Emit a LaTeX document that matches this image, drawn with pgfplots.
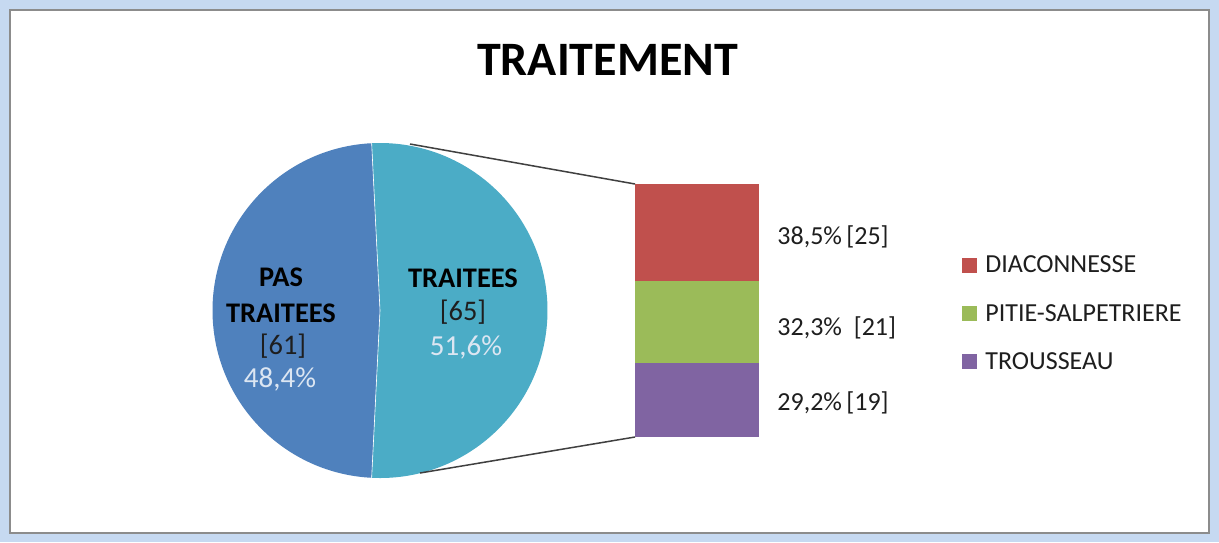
\documentclass[border=0pt]{standalone}
\usepackage{pgfplots}
\pgfplotsset{compat=1.18}
\usepackage{fontspec}
\setmainfont{Carlito}
\definecolor{bgblue}{HTML}{C6D9F1}
\definecolor{pasc}{HTML}{4F81BD}
\definecolor{traitc}{HTML}{4BACC6}
\definecolor{diac}{HTML}{C0504D}
\definecolor{pitc}{HTML}{9BBB59}
\definecolor{trouc}{HTML}{8064A2}
\definecolor{pctc}{HTML}{DCE6F2}
\definecolor{txt}{HTML}{1E1E1E}
\begin{document}
\begin{tikzpicture}
% pie data: PAS TRAITEES = 61, TRAITEES = 65
\pgfmathsetmacro\nPas{61}
\pgfmathsetmacro\nTrait{65}
\pgfmathsetmacro\aPas{\nPas/(\nPas+\nTrait)*360}
\pgfmathsetmacro\sA{180-\aPas/2}
\pgfmathsetmacro\eA{180+\aPas/2}
\pgfmathsetmacro\eB{\sA+360}
\begin{axis}[at={(0,0)}, anchor=south west, scale only axis,
  width=609.5pt, height=271pt, xmin=0, xmax=1219, ymin=0, ymax=542,
  y dir=reverse, hide axis, clip=false]
\fill[bgblue] (axis cs:0,0) rectangle (axis cs:1219,542);
\filldraw[fill=white, draw=black!45, line width=1pt] (axis cs:10,10) rectangle (axis cs:1209,533);
% pie
\fill[pasc] (axis cs:380,310.5) -- ++(\sA:83.75pt) arc[start angle=\sA, end angle=\eA, radius=83.75pt] -- cycle;
\fill[traitc] (axis cs:380,310.5) -- ++(\eA:83.75pt) arc[start angle=\eA, end angle=\eB, radius=83.75pt] -- cycle;
\draw[white, line width=0.3pt] (axis cs:380,310.5) ++(\sA:83.75pt) -- (axis cs:380,310.5) -- ++(\eA:83.75pt);
% connectors
\draw[line width=0.75pt, black!75] (axis cs:410,144) -- (axis cs:635,184);
\draw[line width=0.75pt, black!75] (axis cs:420,473) -- (axis cs:635,437);
% title
\node[anchor=base, inner sep=0pt, font=\bfseries\fontsize{24}{28}\selectfont] at (axis cs:607.5,75) {TRAITEMENT};
% pie labels
\node[anchor=base, inner sep=0pt, font=\bfseries\fontsize{14.2}{16}\selectfont] at (axis cs:281,286) {PAS};
\node[anchor=base, inner sep=0pt, font=\bfseries\fontsize{14.2}{16}\selectfont] at (axis cs:281,322) {TRAITEES};
\node[anchor=base, inner sep=0pt, txt, font=\fontsize{14.2}{16}\selectfont] at (axis cs:283,354) {[61]};
\node[anchor=base, inner sep=0pt, pctc, font=\fontsize{14.5}{16}\selectfont] at (axis cs:280,387) {48,4\%};
\node[anchor=base, inner sep=0pt, font=\bfseries\fontsize{14.2}{16}\selectfont] at (axis cs:463,287) {TRAITEES};
\node[anchor=base, inner sep=0pt, txt, font=\fontsize{14.2}{16}\selectfont] at (axis cs:463,320) {[65]};
\node[anchor=base, inner sep=0pt, pctc, font=\fontsize{14.5}{16}\selectfont] at (axis cs:466,355) {51,6\%};
% bar labels
\node[anchor=base west, inner sep=0pt, txt, font=\fontsize{13}{15}\selectfont] at (axis cs:777,244) {38,5\%\,[25]};
\node[anchor=base west, inner sep=0pt, txt, font=\fontsize{13}{15}\selectfont] at (axis cs:777,335) {32,3\%~~[21]};
\node[anchor=base west, inner sep=0pt, txt, font=\fontsize{13}{15}\selectfont] at (axis cs:777,410) {29,2\%\,[19]};
% legend
\fill[diac] (axis cs:962,258) rectangle (axis cs:977,273);
\fill[pitc] (axis cs:962,306) rectangle (axis cs:977,321);
\fill[trouc] (axis cs:962,354) rectangle (axis cs:977,369);
\node[anchor=base west, inner sep=0pt, txt, font=\fontsize{13}{15}\selectfont] at (axis cs:985,272) {DIACONNESSE};
\node[anchor=base west, inner sep=0pt, txt, font=\fontsize{13}{15}\selectfont] at (axis cs:985,321) {PITIE-SALPETRIERE};
\node[anchor=base west, inner sep=0pt, txt, font=\fontsize{13}{15}\selectfont] at (axis cs:985,369) {TROUSSEAU};
\end{axis}
\begin{axis}[at={(317.5pt,52.5pt)}, anchor=south west, scale only axis,
  width=62pt, height=126.5pt, xmin=-0.5, xmax=0.5, ymin=0, ymax=65,
  ybar stacked, bar width=62pt, hide axis]
\addplot[fill=trouc, draw=none] coordinates {(0,19)};
\addplot[fill=pitc, draw=none] coordinates {(0,21)};
\addplot[fill=diac, draw=none] coordinates {(0,25)};
\end{axis}
\end{tikzpicture}
\end{document}
